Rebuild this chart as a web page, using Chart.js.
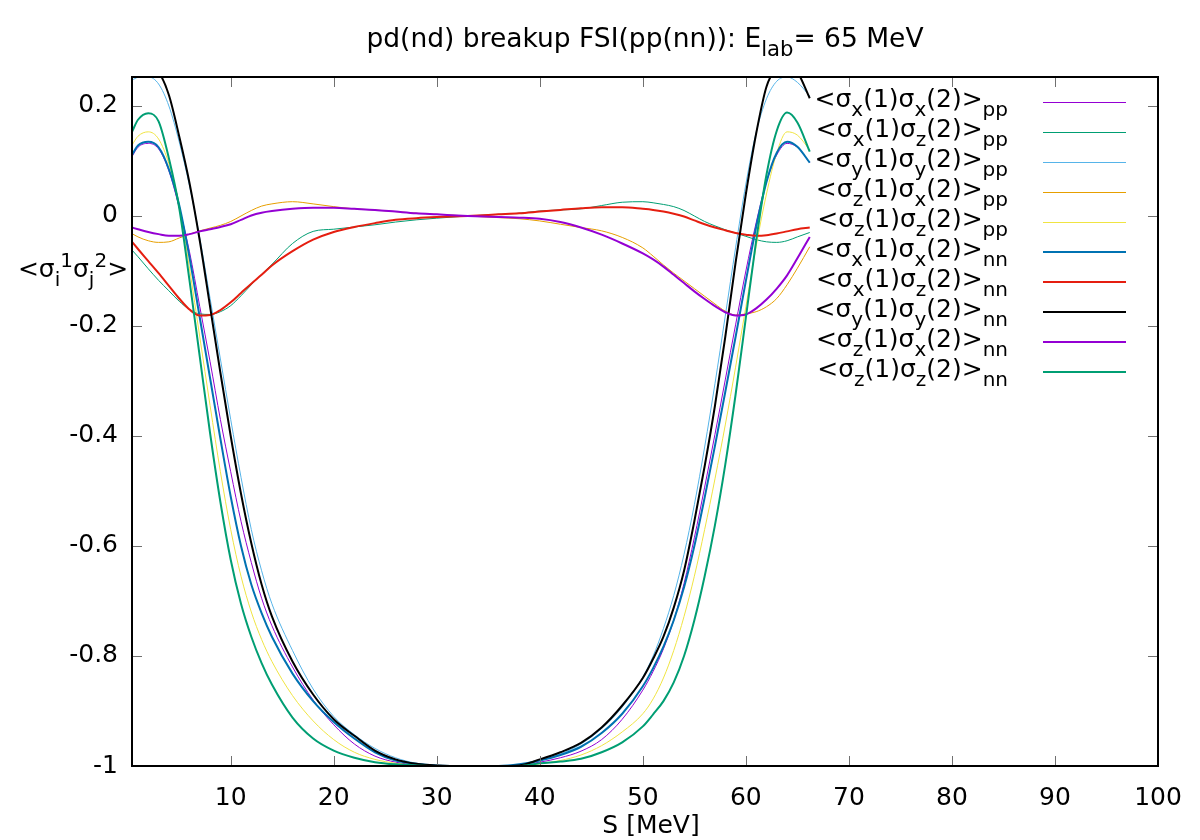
<!DOCTYPE html>
<html>
<head>
<meta charset="utf-8">
<title>pd(nd) breakup FSI</title>
<script src="https://cdn.jsdelivr.net/npm/chart.js@4.4.1/dist/chart.umd.min.js"></script>
<style>
  html, body { margin: 0; padding: 0; background: #fff; }
</style>
</head>
<body>
<canvas id="chart" width="1200" height="840"></canvas>
<script>
// S grid [MeV]
const S = [0.42, 1, 2, 3, 4, 5, 6, 7, 8, 9, 10, 11, 12, 13, 14,
  16, 18, 20, 22, 24, 26, 28, 30,
  33, 36, 38,
  40, 42, 44, 46, 48, 50,
  51, 52, 53, 54, 55, 56, 57, 58, 59, 60, 61, 62, 63, 64, 65,
  66.2];

const xxPP = [0.108, 0.125, 0.132, 0.122, 0.082, 0.015, -0.065, -0.165, -0.265, -0.37, -0.465, -0.555, -0.63, -0.695, -0.745,
  -0.82, -0.88, -0.925, -0.96, -0.982, -0.993, -0.998, -1,
  -1, -1, -0.998,
  -0.993, -0.985, -0.973, -0.952, -0.915, -0.862,
  -0.828, -0.787, -0.735, -0.668, -0.585, -0.493, -0.397, -0.298, -0.198, -0.1, -0.012, 0.062, 0.111, 0.132, 0.125,
  0.097];
const xzPP = [-0.062, -0.074, -0.096, -0.117, -0.136, -0.155, -0.17, -0.178, -0.179, -0.174, -0.163, -0.145, -0.125, -0.106, -0.088,
  -0.05, -0.028, -0.024, -0.02, -0.016, -0.011, -0.007, -0.004,
  0, 0.003, 0.005,
  0.009, 0.011, 0.013, 0.019, 0.025, 0.026,
  0.024, 0.021, 0.017, 0.01, 0.0, -0.01, -0.018, -0.025, -0.031, -0.037, -0.043, -0.047, -0.048, -0.045, -0.038,
  -0.03];
const yyPP = [0.247, 0.252, 0.253, 0.24, 0.2, 0.135, 0.055, -0.04, -0.15, -0.26, -0.37, -0.475, -0.57, -0.645, -0.705,
  -0.79, -0.86, -0.91, -0.943, -0.968, -0.985, -0.995, -0.999,
  -1, -1, -0.999,
  -0.99, -0.978, -0.96, -0.932, -0.893, -0.838,
  -0.8, -0.75, -0.69, -0.615, -0.525, -0.42, -0.305, -0.182, -0.058, 0.058, 0.152, 0.213, 0.245, 0.253, 0.243,
  0.218];
const zxPP = [-0.032, -0.038, -0.045, -0.048, -0.047, -0.04, -0.033, -0.027, -0.022, -0.017, -0.01, 0.0, 0.01, 0.018, 0.022,
  0.026, 0.022, 0.017, 0.013, 0.011, 0.008, 0.005, 0.003,
  0, -0.003, -0.005,
  -0.009, -0.015, -0.021, -0.027, -0.039, -0.058,
  -0.073, -0.089, -0.104, -0.118, -0.132, -0.146, -0.16, -0.173, -0.18, -0.178, -0.174, -0.165, -0.15, -0.125, -0.095,
  -0.056];
const zzPP = [0.129, 0.145, 0.153, 0.14, 0.095, 0.02, -0.095, -0.22, -0.345, -0.465, -0.57, -0.655, -0.72, -0.77, -0.81,
  -0.872, -0.918, -0.952, -0.975, -0.988, -0.995, -0.999, -1,
  -1, -1, -0.999,
  -0.996, -0.99, -0.98, -0.963, -0.938, -0.905,
  -0.878, -0.84, -0.79, -0.728, -0.655, -0.57, -0.478, -0.38, -0.275, -0.165, -0.055, 0.04, 0.115, 0.153, 0.147,
  0.12];
const xxNN = [0.111, 0.128, 0.135, 0.125, 0.085, 0.02, -0.075, -0.185, -0.295, -0.405, -0.51, -0.6, -0.67, -0.722, -0.765,
  -0.832, -0.882, -0.92, -0.95, -0.975, -0.99, -0.996, -0.999,
  -1, -1, -0.997,
  -0.99, -0.98, -0.965, -0.94, -0.905, -0.855,
  -0.822, -0.783, -0.735, -0.675, -0.6, -0.512, -0.418, -0.32, -0.22, -0.118, -0.02, 0.062, 0.115, 0.135, 0.126,
  0.097];
const xzNN = [-0.047, -0.06, -0.082, -0.104, -0.127, -0.15, -0.17, -0.181, -0.18, -0.171, -0.157, -0.14, -0.123, -0.107, -0.09,
  -0.064, -0.043, -0.029, -0.02, -0.013, -0.007, -0.004, -0.002,
  0, 0.003, 0.005,
  0.008, 0.011, 0.014, 0.016, 0.016, 0.013,
  0.011, 0.008, 0.004, -0.001, -0.008, -0.015, -0.021, -0.026, -0.031, -0.034, -0.036, -0.035, -0.032, -0.028, -0.024,
  -0.021];
const yyNN = [0.252, 0.267, 0.275, 0.262, 0.22, 0.145, 0.06, -0.045, -0.165, -0.285, -0.4, -0.505, -0.595, -0.67, -0.728,
  -0.81, -0.87, -0.915, -0.945, -0.972, -0.988, -0.996, -0.999,
  -1, -1, -0.999,
  -0.988, -0.975, -0.958, -0.93, -0.89, -0.84,
  -0.805, -0.765, -0.712, -0.645, -0.555, -0.455, -0.345, -0.22, -0.085, 0.04, 0.15, 0.235, 0.27, 0.278, 0.262,
  0.214];
const zxNN = [-0.021, -0.024, -0.029, -0.033, -0.036, -0.036, -0.033, -0.028, -0.024, -0.02, -0.015, -0.007, 0.001, 0.006, 0.009,
  0.013, 0.015, 0.015, 0.013, 0.011, 0.008, 0.005, 0.003,
  0, -0.002, -0.003,
  -0.005, -0.011, -0.021, -0.034, -0.05, -0.068,
  -0.079, -0.092, -0.107, -0.122, -0.137, -0.151, -0.164, -0.175, -0.181, -0.179, -0.168, -0.152, -0.132, -0.108, -0.077,
  -0.038];
const zzNN = [0.153, 0.175, 0.187, 0.172, 0.105, 0.015, -0.117, -0.256, -0.395, -0.52, -0.625, -0.705, -0.765, -0.813, -0.852,
  -0.912, -0.95, -0.972, -0.985, -0.993, -0.997, -0.999, -1,
  -1, -1, -1,
  -0.995, -0.992, -0.987, -0.975, -0.957, -0.928,
  -0.906, -0.882, -0.848, -0.8, -0.735, -0.655, -0.562, -0.452, -0.325, -0.185, -0.045, 0.075, 0.155, 0.188, 0.17,
  0.117];

const xTicks = [10, 20, 30, 40, 50, 60, 70, 80, 90, 100];
const yTicks = [-1, -0.8, -0.6, -0.4, -0.2, 0, 0.2];
const yTickLabels = ['-1', '-0.8', '-0.6', '-0.4', '-0.2', '0', '0.2'];

// legend text pieces: [text, 0 normal | 1 subscript | 2 superscript]
const seriesNames = [
  [['<σ', 0], ['x', 1], ['(1)σ', 0], ['x', 1], ['(2)>', 0], ['pp', 1]],
  [['<σ', 0], ['x', 1], ['(1)σ', 0], ['z', 1], ['(2)>', 0], ['pp', 1]],
  [['<σ', 0], ['y', 1], ['(1)σ', 0], ['y', 1], ['(2)>', 0], ['pp', 1]],
  [['<σ', 0], ['z', 1], ['(1)σ', 0], ['x', 1], ['(2)>', 0], ['pp', 1]],
  [['<σ', 0], ['z', 1], ['(1)σ', 0], ['z', 1], ['(2)>', 0], ['pp', 1]],
  [['<σ', 0], ['x', 1], ['(1)σ', 0], ['x', 1], ['(2)>', 0], ['nn', 1]],
  [['<σ', 0], ['x', 1], ['(1)σ', 0], ['z', 1], ['(2)>', 0], ['nn', 1]],
  [['<σ', 0], ['y', 1], ['(1)σ', 0], ['y', 1], ['(2)>', 0], ['nn', 1]],
  [['<σ', 0], ['z', 1], ['(1)σ', 0], ['x', 1], ['(2)>', 0], ['nn', 1]],
  [['<σ', 0], ['z', 1], ['(1)σ', 0], ['z', 1], ['(2)>', 0], ['nn', 1]]
];
const seriesValues = [xxPP, xzPP, yyPP, zxPP, zzPP, xxNN, xzNN, yyNN, zxNN, zzNN];
const seriesColors = ['#9400d3', '#009e73', '#56b4e9', '#e69f00', '#f0e442',
  '#0072b2', '#e51e10', '#000000', '#9400d3', '#009e73'];
const seriesWidths = [1, 1, 1, 1, 1, 2, 2, 2, 2, 2];

const titleParts = [['pd(nd) breakup FSI(pp(nn)): E', 0], ['lab', 1], ['= 65 MeV', 0]];
const yLabelParts = [['<σ', 0], ['i', 1], ['1', 2], ['σ', 0], ['j', 1], ['2', 2], ['>', 0]];
const xLabel = 'S [MeV]';

const FONT = '"DejaVu Sans", Verdana, sans-serif';
const FS = 25;

function richText(ctx, parts, x, y, size, align) {
  const small = size * 0.8;
  let w = 0;
  parts.forEach(([t, m]) => {
    ctx.font = (m ? small : size) + 'px ' + FONT;
    w += ctx.measureText(t).width;
  });
  let cx = align === 'right' ? x - w : align === 'center' ? x - w / 2 : x;
  ctx.textAlign = 'left';
  ctx.textBaseline = 'alphabetic';
  parts.forEach(([t, m]) => {
    ctx.font = (m ? small : size) + 'px ' + FONT;
    const dy = m === 1 ? size * 0.34 : m === 2 ? -size * 0.4 : 0;
    ctx.fillText(t, cx, y + dy);
    cx += ctx.measureText(t).width;
  });
}

const decor = {
  id: 'decor',
  afterDatasetsDraw(chart) {
    const { ctx, chartArea: a, scales: { x, y } } = chart;
    ctx.save();
    // inward ticks on all four sides
    ctx.strokeStyle = '#707070';
    ctx.lineWidth = 1;
    ctx.beginPath();
    xTicks.forEach(v => {
      const px = Math.round(x.getPixelForValue(v)) + 0.5;
      ctx.moveTo(px, a.bottom); ctx.lineTo(px, a.bottom - 10);
      ctx.moveTo(px, a.top); ctx.lineTo(px, a.top + 10);
    });
    yTicks.forEach(v => {
      const py = Math.round(y.getPixelForValue(v)) + 0.5;
      ctx.moveTo(a.left, py); ctx.lineTo(a.left + 10, py);
      ctx.moveTo(a.right, py); ctx.lineTo(a.right - 10, py);
    });
    ctx.stroke();
    // frame
    ctx.strokeStyle = '#000';
    ctx.lineWidth = 2;
    ctx.strokeRect(a.left, a.top, a.right - a.left, a.bottom - a.top);

    ctx.fillStyle = '#000';
    const mid = (a.left + a.right) / 2;
    richText(ctx, titleParts, mid, 47, 26.5, 'center');
    richText(ctx, yLabelParts, 73, 277, FS, 'center');
    ctx.font = FS + 'px ' + FONT;
    ctx.textAlign = 'center';
    ctx.textBaseline = 'alphabetic';
    ctx.fillText(xLabel, mid + 6, 833);

    // key
    seriesNames.forEach((parts, i) => {
      const ry = 102 + i * 30;
      ctx.fillStyle = '#000';
      richText(ctx, parts, 1008, ry + 5, FS, 'right');
      const off = seriesWidths[i] === 1 ? 0.5 : 0;
      ctx.strokeStyle = seriesColors[i];
      ctx.lineWidth = seriesWidths[i];
      ctx.beginPath();
      ctx.moveTo(1043, ry + off);
      ctx.lineTo(1126, ry + off);
      ctx.stroke();
    });
    ctx.restore();
  }
};

new Chart(document.getElementById('chart'), {
  type: 'line',
  data: {
    datasets: seriesValues.map((vals, i) => ({
      label: seriesNames[i].map(p => p[0]).join(''),
      data: S.map((s, k) => ({ x: s, y: vals[k] })),
      borderColor: seriesColors[i],
      borderWidth: seriesWidths[i],
      order: 10 - i,
      fill: false
    }))
  },
  options: {
    responsive: false,
    animation: false,
    devicePixelRatio: 1,
    layout: { padding: { top: 77, right: 42, left: 0, bottom: 0 } },
    elements: {
      point: { radius: 0 },
      line: { cubicInterpolationMode: 'monotone' }
    },
    plugins: {
      legend: { display: false },
      title: { display: false },
      tooltip: { enabled: false }
    },
    scales: {
      x: {
        type: 'linear',
        min: 0.42,
        max: 100,
        afterBuildTicks: s => { s.ticks = xTicks.map(v => ({ value: v })); },
        afterFit: s => { s.height = 74; },
        grid: { display: false, drawTicks: false },
        border: { display: false },
        ticks: {
          color: '#000',
          font: { family: FONT, size: FS },
          padding: 17,
          maxRotation: 0,
          callback: v => String(v)
        }
      },
      y: {
        min: -1,
        max: 0.2527,
        afterBuildTicks: s => { s.ticks = yTicks.map(v => ({ value: v })); },
        afterFit: s => { s.width = 132; },
        grid: { display: false, drawTicks: false },
        border: { display: false },
        ticks: {
          color: '#000',
          font: { family: FONT, size: FS },
          padding: 14,
          callback: (v, i) => yTickLabels[i]
        }
      }
    }
  },
  plugins: [decor]
});
</script>
</body>
</html>
